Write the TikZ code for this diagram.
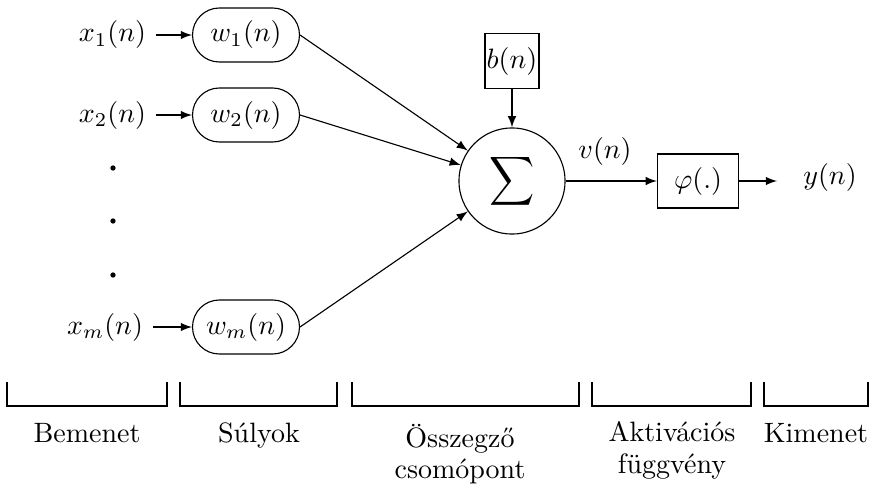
\documentclass[tikz,border=0pt]{standalone}
\usepackage{fontspec}
\usepackage{graphicx}
\usetikzlibrary{arrows}
\begin{document}
\begin{tikzpicture}[x=0.35714pt,y=-0.35714pt, >=latex,
  inp/.style={inner sep=3.33pt},
  wbox/.style={draw, rounded corners=9.6pt, minimum width=38.2pt, minimum height=19.3pt, inner sep=0pt},
  bbox/.style={draw, minimum width=19.3pt, minimum height=19.6pt, inner sep=0.5pt},
  fbox/.style={draw, minimum width=29pt, minimum height=19.3pt, inner sep=0pt},
  sumnode/.style={draw, circle, minimum size=37.9pt, inner sep=0pt},
  dotnode/.style={circle, fill, inner sep=0pt, minimum size=1.9pt},
  lbl/.style={anchor=base, inner sep=0pt},
  bracket/.style={line width=0.4pt}
]
\useasboundingbox (0,0) rectangle (873,487);

% inputs
\node[inp] (x1) at (112.5,35) {$x_1(n)$};
\node[inp] (x2) at (112.5,115) {$x_2(n)$};
\node[inp] (xm) at (105,327) {$x_m(n)$};

\node[dotnode] (d1) at (113,168) {};
\node[dotnode] (d2) at (113,221) {};
\node[dotnode] (d3) at (113,275) {};

% weights
\node[wbox] (w1) at (246,35) {$w_1(n)$};
\node[wbox] (w2) at (246,115) {$w_2(n)$};
\node[wbox] (wm) at (246,327) {$w_m(n)$};

% summing junction
\node[sumnode] (sum) at (512,181) {\scalebox{1.12}[1.22]{$\displaystyle\sum$}};
\node[bbox] (b) at (512,61) {$b(n)$};
\node[inp] (v) at (605,151) {$v(n)$};

% activation
\node[fbox] (phi) at (698,181) {$\varphi(.)$};
\coordinate (yend) at (777,181);
\node[inp] (y) at (830,177) {$y(n)$};

% connectors
\draw[->] (x1) -- (w1);
\draw[->] (x2) -- (w2);
\draw[->] (xm) -- (wm);
\draw[->] (w1.east) -- (sum);
\draw[->] (w2.east) -- (sum);
\draw[->] (wm.east) -- (sum);
\draw[->] (b) -- (sum);
\draw[->] (sum) -- (phi);
\draw[->] (phi) -- (yend);

% brackets
\draw[bracket] (7,382) |- (167,406) -- (167,382);
\draw[bracket] (180,382) |- (337,406) -- (337,382);
\draw[bracket] (352,382) |- (579,406) -- (579,382);
\draw[bracket] (592,382) |- (751,406) -- (751,382);
\draw[bracket] (764,382) |- (868,406) -- (868,382);

% labels
\node[lbl] (l1) at (87,442) {Bemenet};
\node[lbl] (l2) at (259,442) {Súlyok};
\node[lbl] (l3a) at (460,447) {Összegző};
\node[lbl] (l3b) at (460,478) {csomópont};
\node[lbl] (l4a) at (672,441) {Aktivációs};
\node[lbl] (l4b) at (672,473) {függvény};
\node[lbl] (l5) at (816,442) {Kimenet};
\end{tikzpicture}
\end{document}
